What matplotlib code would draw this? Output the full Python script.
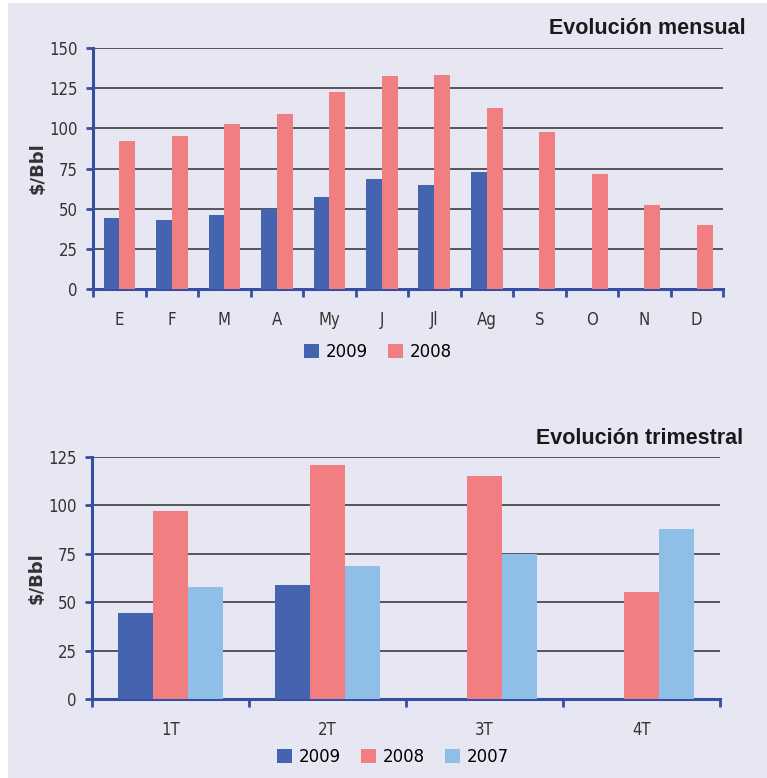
import numpy as np
import matplotlib.pyplot as plt
from matplotlib.patches import Rectangle

# monthly data ($/Bbl)
months = ['E', 'F', 'M', 'A', 'My', 'J', 'Jl', 'Ag', 'S', 'O', 'N', 'D']
m_2009 = [44, 43, 46, 50, 57, 68.5, 65, 73, np.nan, np.nan, np.nan, np.nan]
m_2008 = [92, 95, 103, 109, 122.5, 132.5, 133, 112.5, 97.5, 71.5, 52, 40]

# quarterly data ($/Bbl)
quarters = ['1T', '2T', '3T', '4T']
q_2009 = [44.5, 59, np.nan, np.nan]
q_2008 = [97, 121, 115, 55.5]
q_2007 = [58, 68.5, 75, 88]

BLUE = '#4464AF'
PINK = '#F17F82'
LBLUE = '#8FBFE6'
BG = '#E7E7F3'
SPINE = '#3550A2'
TXT = '#333333'

W, H = 767, 778
fig = plt.figure(figsize=(W / 100, H / 100), dpi=100)
fig.patch.set_facecolor('white')
fig.patches.append(Rectangle((8 / W, 0), 1, 1 - 3 / H, transform=fig.transFigure,
                             facecolor=BG, edgecolor='none', zorder=-10))

narrow = ['Liberation Sans Narrow', 'DejaVu Sans']


def px_axes(x0, y0, x1, y1):
    return fig.add_axes([x0 / W, 1 - y1 / H, (x1 - x0) / W, (y1 - y0) / H])


def style(ax, n, ymax, step, labels):
    ax.set_facecolor('none')
    ax.set_xlim(0, n)
    ax.set_ylim(0, ymax)
    for s in ['top', 'right']:
        ax.spines[s].set_visible(False)
    for s in ['left', 'bottom']:
        ax.spines[s].set_color(SPINE)
        ax.spines[s].set_linewidth(2.2)
    ax.set_yticks(np.arange(0, ymax + 1, step))
    ax.yaxis.grid(True, color='#2f2f2f', lw=1.1)
    ax.set_axisbelow(True)
    ax.tick_params(axis='y', length=5, width=2, color=SPINE, pad=6,
                   labelsize=12, labelcolor=TXT)
    ax.set_xticks(np.arange(n) + 0.5)
    ax.set_xticklabels(labels)
    ax.set_xticks(np.arange(n + 1), minor=True)
    ax.tick_params(axis='x', which='major', length=0, pad=16,
                   labelsize=12, labelcolor=TXT)
    ax.tick_params(axis='x', which='minor', length=6, width=2, color=SPINE)
    for lab in ax.get_xticklabels() + ax.get_yticklabels():
        lab.set_family(narrow)
        lab.set_stretch('condensed')
    ax.set_ylabel('$/Bbl', fontsize=13, fontweight='bold', color=TXT,
                  family=narrow, labelpad=2)


# monthly chart
ax1 = px_axes(93, 48, 723, 289)
x = np.arange(len(months)) + 0.5
bw = 0.3
b1 = ax1.bar(x - bw / 2, m_2009, bw, color=BLUE, label='2009', zorder=3)
b2 = ax1.bar(x + bw / 2, m_2008, bw, color=PINK, label='2008', zorder=3)
style(ax1, len(months), 150, 25, months)
fig.text(746 / W, 1 - 29 / H, 'Evolución mensual', ha='right', va='center',
         fontsize=15.5, fontweight='heavy', color='#1a1a1a', family='Liberation Sans')
fig.legend(handles=[b1, b2], loc='center', bbox_to_anchor=(378 / W, 1 - 352 / H),
           ncol=2, frameon=False, handlelength=0.9, handleheight=0.9,
           handletextpad=0.4, columnspacing=1.2,
           prop={'family': narrow, 'size': 12})

# quarterly chart
ax2 = px_axes(92, 457, 720, 699)
xq = np.arange(len(quarters)) + 0.5
qw = 0.225
c1 = ax2.bar(xq - qw, q_2009, qw, color=BLUE, label='2009', zorder=3)
c2 = ax2.bar(xq, q_2008, qw, color=PINK, label='2008', zorder=3)
c3 = ax2.bar(xq + qw, q_2007, qw, color=LBLUE, label='2007', zorder=3)
style(ax2, len(quarters), 125, 25, quarters)
fig.text(743 / W, 1 - 438 / H, 'Evolución trimestral', ha='right', va='center',
         fontsize=15.5, fontweight='heavy', color='#1a1a1a', family='Liberation Sans')
fig.legend(handles=[c1, c2, c3], loc='center', bbox_to_anchor=(393 / W, 1 - 757 / H),
           ncol=3, frameon=False, handlelength=0.9, handleheight=0.9,
           handletextpad=0.4, columnspacing=1.2,
           prop={'family': narrow, 'size': 12})

fig.savefig('out.png', dpi=100, facecolor=fig.get_facecolor())
